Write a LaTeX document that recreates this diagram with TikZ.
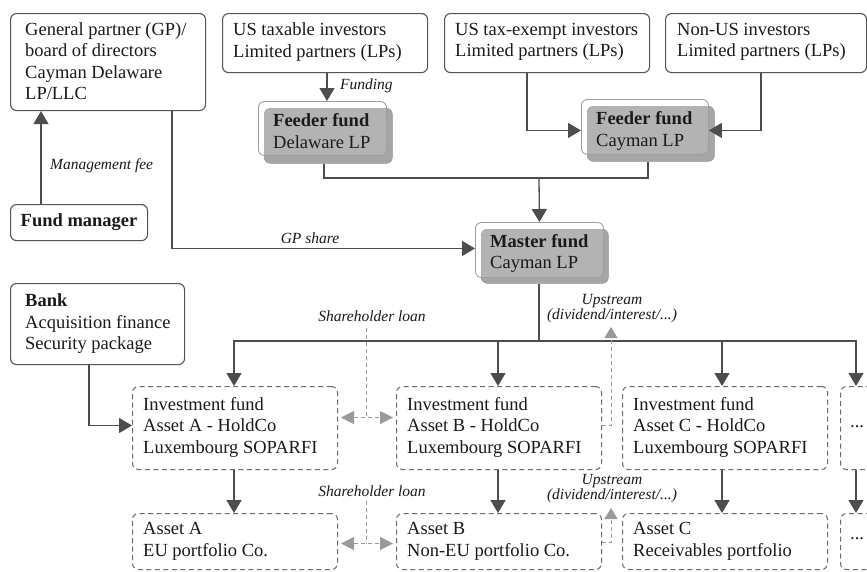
\documentclass[tikz,border=0pt]{standalone}
\usepackage{fontspec}
\setmainfont{Liberation Serif}
\usetikzlibrary{arrows.meta}
\definecolor{lc}{HTML}{555555}
\definecolor{dc}{HTML}{6A6A6A}
\definecolor{ac}{HTML}{4D4D4D}
\definecolor{gc}{HTML}{9A9A9A}
\definecolor{shd}{HTML}{A6A6A6}
\definecolor{tc}{HTML}{1A1A1A}
\newcommand\mainsz{\fontsize{18.5}{21.5}\selectfont}
\newcommand\lblsz{\fontsize{15.5}{15}\selectfont}
\tikzset{
  sbox/.style={draw=lc, line width=1.1pt, rounded corners=6pt, inner sep=0pt, anchor=north west},
  dbox/.style={draw=dc, line width=1pt, dash pattern=on 5pt off 3.5pt, rounded corners=6pt, inner sep=0pt, anchor=north west},
  wbox/.style={draw=gray!75, line width=0.9pt, fill=white, fill opacity=0.15, rounded corners=6pt, inner sep=0pt, anchor=north west},
  gbox/.style={fill=shd, draw=gray!85, line width=0.6pt, rounded corners=6pt, inner sep=0pt, anchor=north west},
  txt/.style={anchor=west, align=left, inner sep=0pt, font=\mainsz, text=tc},
  lbl/.style={inner sep=0pt, font=\lblsz\itshape, text=tc, align=center},
  conn/.style={draw=ac, line width=1.3pt},
  arr/.style={conn, -{Triangle[length=13pt,width=15pt]}},
  gline/.style={draw=gc, line width=1pt, dash pattern=on 4pt off 3pt},
  garr/.style={gline, -{Triangle[length=11pt,width=13pt,fill=gc]}},
  gdarr/.style={gline, {Triangle[length=13pt,width=13pt,fill=gc]}-{Triangle[length=13pt,width=13pt,fill=gc]}},
}
\begin{document}
\begin{tikzpicture}[x=1pt,y=-1pt]
\clip (0,0) rectangle (867,571);
\fill[white] (0,0) rectangle (867,571);

% top row boxes
\node[sbox, minimum width=195pt, minimum height=97pt] (gp) at (10,13) {};
\node[txt] (gpt) at (25,61) {General partner (GP)/\\board of directors\\Cayman Delaware\\LP/LLC};
\node[sbox, minimum width=137pt, minimum height=36pt] (fm) at (10,204) {};
\node[inner sep=0pt, font=\mainsz\bfseries, text=tc] (fmt) at (fm.center) {Fund manager};
\node[sbox, minimum width=205pt, minimum height=59pt] (ust) at (222,13) {};
\node[txt] (ustt) at (233,42) {US taxable investors\\Limited partners (LPs)};
\node[sbox, minimum width=205pt, minimum height=59pt] (uste) at (444,13) {};
\node[txt] (ustet) at (455,42) {US tax-exempt investors\\Limited partners (LPs)};
\node[sbox, minimum width=201pt, minimum height=59pt] (nus) at (665,13) {};
\node[txt] (nust) at (677,42) {Non-US investors\\Limited partners (LPs)};

% feeder and master funds
\node[gbox, minimum width=128pt, minimum height=55pt] (fdg) at (264,108) {};
\node[wbox, minimum width=128pt, minimum height=54pt] (fdw) at (258,101) {};
\node[txt] (fdt) at (273,131) {\textbf{Feeder fund}\\Delaware LP};
\node[gbox, minimum width=127pt, minimum height=55pt] (fcg) at (587,106) {};
\node[wbox, minimum width=127pt, minimum height=55pt] (fcw) at (581,99) {};
\node[txt] (fct) at (596,131) {\textbf{Feeder fund}\\Cayman LP};
\node[gbox, minimum width=127pt, minimum height=54pt] (mfg) at (481,229) {};
\node[wbox, minimum width=128pt, minimum height=55pt] (mfw) at (475,222) {};
\node[txt] (mft) at (490,253.5) {\textbf{Master fund}\\Cayman LP};

% bank
\node[sbox, minimum width=174pt, minimum height=81pt] (bank) at (10,283) {};
\node[txt] (bankt) at (25,324) {\textbf{Bank}\\Acquisition finance\\Security package};

% holdcos
\node[dbox, minimum width=205pt, minimum height=83pt] (ia) at (132,386) {};
\node[txt] (iat) at (143,427) {Investment fund\\Asset A - HoldCo\\Luxembourg SOPARFI};
\node[dbox, minimum width=205pt, minimum height=83pt] (ib) at (396,386) {};
\node[txt] (ibt) at (407,427) {Investment fund\\Asset B - HoldCo\\Luxembourg SOPARFI};
\node[dbox, minimum width=205pt, minimum height=83pt] (ic) at (622,386) {};
\node[txt] (ict) at (633,427) {Investment fund\\Asset C - HoldCo\\Luxembourg SOPARFI};
\node[dbox, minimum width=45pt, minimum height=83pt] (id) at (840,386) {};
\node[txt] (idt) at (850,427) {...};

% assets
\node[dbox, minimum width=205pt, minimum height=56pt] (aa) at (132,513) {};
\node[txt] (aat) at (143,541.5) {Asset A\\EU portfolio Co.};
\node[dbox, minimum width=205pt, minimum height=56pt] (ab) at (396,513) {};
\node[txt] (abt) at (407,541.5) {Asset B\\Non-EU portfolio Co.};
\node[dbox, minimum width=205pt, minimum height=56pt] (ac) at (622,513) {};
\node[txt] (act) at (633,541.5) {Asset C\\Receivables portfolio};
\node[dbox, minimum width=45pt, minimum height=56pt] (ad) at (840,513) {};
\node[txt] (adt) at (850,539) {...};

% labels
\node[lbl, anchor=west] (lmf) at (50,166) {Management fee};
\node[lbl] (lgp) at (310,238) {GP share};
\node[lbl, anchor=west] (lfu) at (340,86) {Funding};
\node[lbl] (lsl1) at (372,316) {Shareholder loan};
\node[lbl] (lsl2) at (372,491) {Shareholder loan};
\node[lbl] (lup1) at (612,308.5) {Upstream\\(dividend/interest/...)};
\node[lbl] (lup2) at (612,488.5) {Upstream\\(dividend/interest/...)};

% coordinates
\coordinate (j1) at (539,178);
\coordinate (j2) at (539,341);
\coordinate (s1) at (366,328);
\coordinate (s2) at (366,501);
\coordinate (u1) at (611,327);
\coordinate (u2) at (611,508);
\coordinate (s1b) at ([yshift=10.5pt]ia.east);
\coordinate (s2b) at ([yshift=-2pt]aa.east);

% connectors
\draw[arr] ([xshift=31pt]fm.north west) -- ([xshift=31pt]gp.south west);
\draw[arr] ([xshift=162pt]gp.south west) |- ([yshift=1.5pt]mfw.west);
\draw[arr] ([xshift=105pt]ust.south west) -- ([xshift=69pt]fdw.north west);
\draw[arr] ([xshift=83pt]uste.south west) |- ([yshift=-3.5pt]fcw.west);
\draw[arr] ([xshift=96pt]nus.south west) |- ([yshift=-3.5pt]fcw.east);
\draw[conn] ([xshift=60pt]fdg.south west) |- (j1) -| ([xshift=61pt]fcg.south west);
\draw[arr] (j1) -- (mfw.north);
\draw[conn] ([xshift=58pt]mfg.south west) -- (j2);
\draw[arr] (j2) -| ([xshift=102pt]ia.north west);
\draw[arr] (j2) -| ([xshift=102pt]ib.north west);
\draw[arr] (j2) -| ([xshift=100pt]ic.north west);
\draw[arr] (j2) -| ([xshift=16pt]id.north west);
\draw[arr] ([xshift=79pt]bank.south west) |- ([yshift=2.5pt]ia.west);
\draw[arr] ([xshift=102pt]ia.south west) -- ([xshift=102pt]aa.north west);
\draw[arr] ([xshift=102pt]ib.south west) -- ([xshift=102pt]ab.north west);
\draw[arr] ([xshift=100pt]ic.south west) -- ([xshift=100pt]ac.north west);
\draw[arr] ([xshift=16pt]id.south west) -- ([xshift=16pt]ad.north west);

% shareholder loans
\draw[gdarr] ([xshift=3pt,yshift=10.5pt]ia.east) -- ([xshift=-3pt,yshift=10.5pt]ib.west);
\draw[gline] (s1) -- (s1 |- s1b);
\draw[gdarr] ([xshift=3pt,yshift=-2pt]aa.east) -- ([xshift=-3pt,yshift=-2pt]ab.west);
\draw[gline] (s2) -- (s2 |- s2b);

% upstream
\draw[garr] ([yshift=2.5pt]ib.east) -| (u1);
\draw[garr] ([yshift=-1pt]ab.east) -| (u2);
\end{tikzpicture}
\end{document}
